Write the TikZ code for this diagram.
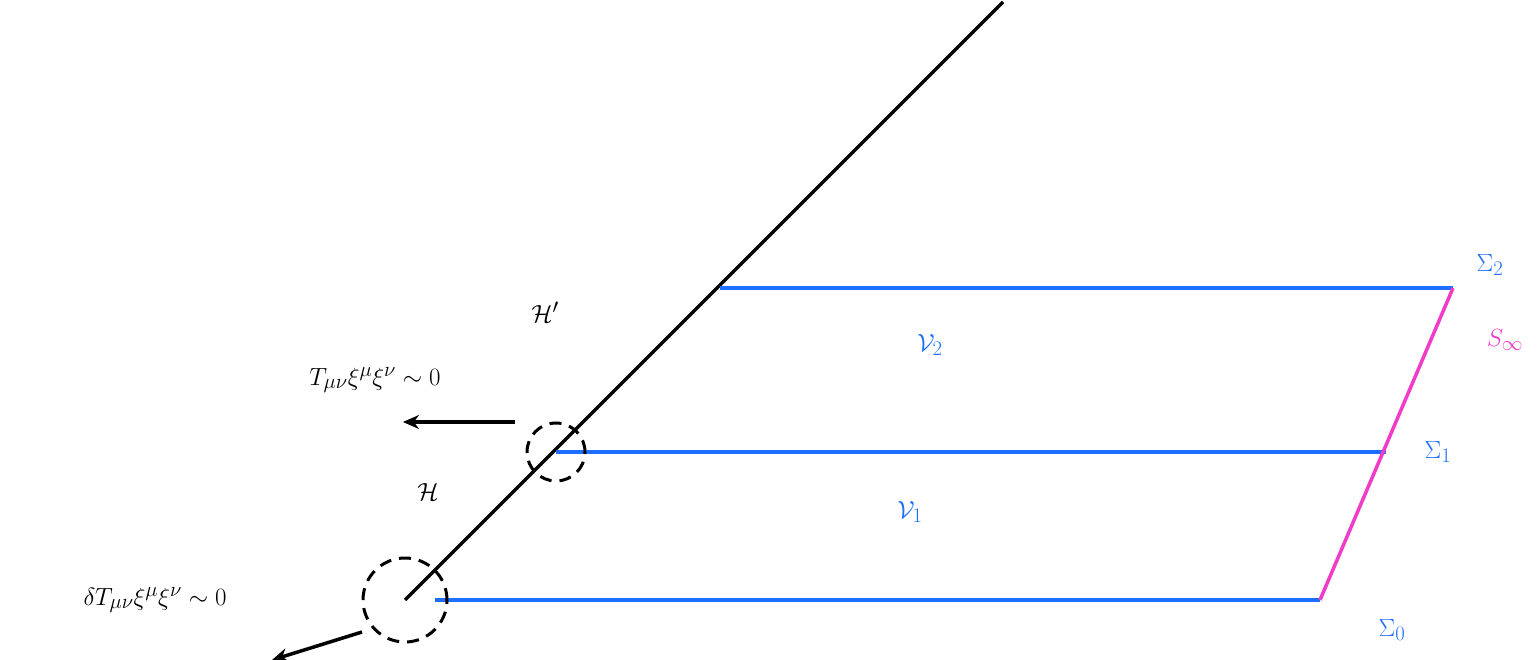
\documentclass[tikz,border=0pt]{standalone}
\usepackage{amsmath}
\usetikzlibrary{arrows.meta}
\begin{document}
\begin{tikzpicture}[x=1pt,y=-1pt,
  bl/.style={line width=3.5pt,draw={rgb,255:red,30;green,110;blue,255}},
  lb/.style={font=\fontsize{30}{34}\selectfont},
  blt/.style={lb,text={rgb,255:red,30;green,110;blue,255}},
  dc/.style={draw,line width=3pt,dash pattern=on 12pt off 8pt},
  ar/.style={line width=3.5pt,-{Stealth[length=16pt,width=14pt]}}]
\useasboundingbox (0,0) rectangle (1540,660);
\coordinate (h0) at (405,600); \coordinate (h1) at (556,452); \coordinate (h2) at (720,288); \coordinate (top) at (1003,2);
\coordinate (e0) at (1320,600); \coordinate (e1) at (1386,452); \coordinate (e2) at (1453,288);
\draw[line width=3.5pt] (h0) -- (top);
\draw[bl] (h0) ++(30,0) -- (e0);
\draw[bl] (h1) -- (e1);
\draw[bl] (h2) -- (e2);
\draw[line width=3.5pt,draw={rgb,255:red,240;green,60;blue,200}] (e0) -- (e2);
\node[dc,circle,minimum size=58pt] (c1) at (h1) {};
\node[dc,circle,minimum size=84pt] (c0) at (h0) {};
\coordinate (a1s) at (515,422); \coordinate (a1e) at (403,422);
\coordinate (a0s) at (362,632); \coordinate (a0e) at (272,660);
\draw[ar] (a1s) -- (a1e);
\draw[ar] (a0s) -- (a0e);
\node[blt] (s2) at (1490,265) {$\Sigma_2$};
\node[lb,text={rgb,255:red,240;green,60;blue,200}] (sinf) at (1505,340) {$S_\infty$};
\node[blt] (s1) at (1438,452) {$\Sigma_1$};
\node[blt] (s0) at (1392,630) {$\Sigma_0$};
\node[blt] (v2) at (930,345) {$\mathcal{V}_2$};
\node[blt] (v1) at (910,512) {$\mathcal{V}_1$};
\node[lb] (hp) at (545,312) {$\mathcal{H}'$};
\node[lb] (hh) at (428,492) {$\mathcal{H}$};
\node[lb] (t1) at (375,380) {$T_{\mu\nu}\xi^\mu\xi^\nu\sim 0$};
\node[lb] (t0) at (155,600) {$\delta T_{\mu\nu}\xi^\mu\xi^\nu\sim 0$};
\end{tikzpicture}
\end{document}
